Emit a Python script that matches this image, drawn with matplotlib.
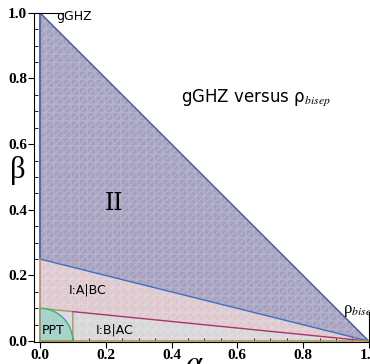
import numpy as np
import matplotlib.pyplot as plt
from matplotlib.patches import Wedge, Polygon

plt.rcParams['mathtext.fontset'] = 'stix'

# boundaries (beta as function of alpha, straight lines)
alpha_ends = [0.0, 1.0]
beta_top = [1.0, 0.0]        # alpha + beta = 1
beta_II = [0.25, 0.0]        # lower edge of region II
beta_ABC = [0.10, 0.0]       # lower edge of region I:A|BC
ppt_r = 0.10                 # PPT quarter circle
box_a = 0.10                 # small box around PPT

tick_vals = [0.0, 0.2, 0.4, 0.6, 0.8, 1.0]
tick_labels = ['0.0', '0.2', '0.4', '0.6', '0.8', '1.0']

c_II = '#a4a0bf'
c_ABC = '#ddc8ce'
c_BAC = '#d6d6d8'
c_box = '#dcd8ee'
c_ppt = '#a8d2cc'

fig = plt.figure(figsize=(3.7, 3.64), dpi=100)
ax = fig.add_axes([0.092, 0.06, 0.905, 0.905])

a = np.array(alpha_ends)

def hatched(xy, fc):
    ax.add_patch(Polygon(xy, closed=True, facecolor=fc, edgecolor='none', zorder=1))
    ax.add_patch(Polygon(xy, closed=True, facecolor='none', edgecolor='white',
                         hatch='++////', linewidth=0, alpha=0.2, zorder=1.5))

# region II
hatched([(a[0], beta_II[0]), (a[0], beta_top[0]), (a[1], beta_top[1])], c_II)
# region I:A|BC
hatched([(a[0], beta_ABC[0]), (a[0], beta_II[0]), (a[1], beta_II[1]), (a[1], beta_ABC[1])], c_ABC)
# region I:B|AC
b_at_box = np.interp(box_a, a, beta_ABC)
hatched([(box_a, 0), (box_a, b_at_box), (a[1], beta_ABC[1])], c_BAC)
# small box
ax.add_patch(Polygon([(0, 0), (0, beta_ABC[0]), (box_a, b_at_box), (box_a, 0)],
                     closed=True, facecolor=c_box, edgecolor='#a89850', lw=1.0, zorder=2))
# PPT
ax.add_patch(Wedge((0, 0), ppt_r, 0, 90, facecolor=c_ppt, edgecolor='#40b070', lw=1.0, zorder=3))

# boundary lines
ax.plot(a, beta_top, color='#3c5a98', lw=1.0, zorder=4)
ax.plot(a, beta_II, color='#3f6fc0', lw=1.0, zorder=4)
ax.plot([box_a, a[1]], [b_at_box, beta_ABC[1]], color='#b0306e', lw=1.0, zorder=4)
ax.plot([0, 0], [beta_II[0], 1], color='#5a6aa8', lw=1.5, zorder=4)
ax.plot([0, 0], [0, beta_II[0]], color='#b09070', lw=1.2, zorder=4)
ax.plot([0, 1], [0, 0], color='#a89850', lw=1.2, zorder=4)

# labels
ax.text(0.226, 0.42, 'II', fontsize=17, family='DejaVu Serif', ha='center', va='center', zorder=5)
ax.text(0.146, 0.155, 'I:A|BC', fontsize=9, ha='center', va='center', zorder=5)
ax.text(0.226, 0.033, 'I:B|AC', fontsize=9, ha='center', va='center', zorder=5)
ax.text(0.04, 0.033, 'PPT', fontsize=9, ha='center', va='center', zorder=5)
ax.text(0.43, 0.74, 'gGHZ versus ρ$_{bisep}$', fontsize=12, ha='left', va='center', zorder=5)

ax.plot([-0.015, 0.07], [1, 1], color='black', lw=0.8, clip_on=False, zorder=5)
ax.text(0.05, 0.99, 'gGHZ', fontsize=9, ha='left', va='center', zorder=5)
ax.plot([1, 1], [0, 0.088], color='black', lw=0.8, clip_on=False, zorder=5)
ax.text(0.92, 0.092, 'ρ$_{bisep}$', fontsize=12, family='Liberation Serif',
        ha='left', va='center', clip_on=False, zorder=5)

ax.set_xlim(-0.018, 1.0)
ax.set_ylim(-0.003, 1.0)
for s in ['top', 'right']:
    ax.spines[s].set_visible(False)
ax.set_xticks(tick_vals)
ax.set_yticks(tick_vals)
ax.set_xticklabels(tick_labels, family='Liberation Serif', fontweight='bold', fontsize=11)
ax.set_yticklabels(tick_labels, family='Liberation Serif', fontweight='bold', fontsize=11)
ax.set_xticks(np.arange(0, 1.001, 0.05), minor=True)
ax.set_yticks(np.arange(0, 1.001, 0.05), minor=True)
ax.tick_params(which='major', direction='out', length=4, pad=1)
ax.tick_params(which='minor', direction='in', length=3)
ax.text(0.47, -0.025, r'$\alpha$', fontsize=22, ha='center', va='top', clip_on=False)
ax.text(-0.068, 0.52, 'β', fontsize=22, family='Liberation Serif',
        ha='center', va='center', clip_on=False)

fig.savefig('out.png', dpi=100)
